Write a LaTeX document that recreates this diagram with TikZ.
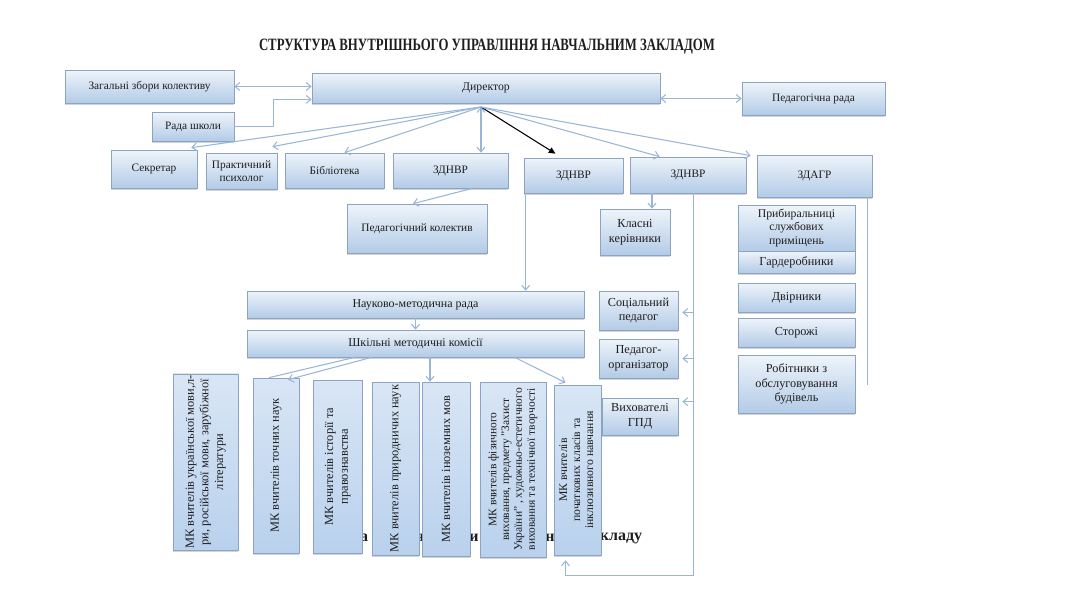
\documentclass[tikz,border=0pt]{standalone}
\usepackage{fontspec}
\setmainfont{Liberation Serif}
\usepackage{graphicx}
\usetikzlibrary{arrows.meta,calc,shadows}
\definecolor{boxtop}{HTML}{EEF4FA}
\definecolor{boxbot}{HTML}{B3CBE7}
\definecolor{boxline}{HTML}{8CA4C2}
\definecolor{conncol}{HTML}{9AB6D6}
\definecolor{mkfill}{HTML}{B9D1ED}
\definecolor{txt}{HTML}{1E1E1E}
\begin{document}
\begin{tikzpicture}[x=0.75pt,y=-0.75pt,
  box/.style={draw=boxline, line width=0.5pt, top color=boxtop, bottom color=boxbot,
    inner sep=1pt, align=center, text=txt, font=\fontsize{8.5}{10}\selectfont,
    drop shadow={shadow xshift=0.3pt, shadow yshift=-1.2pt, opacity=0.35}},
  rbox/.style={box, font=\fontsize{9.2}{11}\selectfont},
  mkbox/.style={box, top color=mkfill!55!white, bottom color=mkfill, font=\fontsize{9.3}{11}\selectfont},
  sz/.style 2 args={minimum width=#1*0.75pt, minimum height=#2*0.75pt},
  conn/.style={draw=conncol, line width=0.8pt},
  tip/.style={-{Straight Barb[length=3.5pt,width=6pt]}},
  tips/.style={{Straight Barb[length=3.5pt,width=6pt]}-{Straight Barb[length=3.5pt,width=6pt]}},
  frag/.style={font=\fontsize{12}{14}\selectfont\bfseries, text=txt, inner sep=0pt}
]
\useasboundingbox (0,0) rectangle (1067,600);

% title
\node[text=txt, inner sep=0pt] (title) at (487,47)
  {\resizebox{342pt}{8.6pt}{\bfseries СТРУКТУРА ВНУТРІШНЬОГО УПРАВЛІННЯ НАВЧАЛЬНИМ ЗАКЛАДОМ}};

% top row
\node[box, sz={169}{33}] (zag) at (149.5,86.5) {Загальні збори колективу};
\node[box, sz={348}{30}, font=\fontsize{8.8}{10}\selectfont] (dir) at (486,88) {Директор};
\node[box, sz={143}{33}] (ped) at (813.5,98.5) {Педагогічна рада};
\node[box, sz={82}{29}] (rada) at (193,126.5) {Рада школи};

% second row
\node[box, sz={86}{38}] (sekr) at (154,169) {Секретар};
\node[box, sz={71}{36}] (psy) at (241.5,171) {Практичний\\психолог};
\node[box, sz={99}{35}] (bib) at (334.5,170.5) {Бібліотека};
\node[box, sz={115}{35}] (zd1) at (450.5,170.5) {ЗДНВР};
\node[box, sz={99}{35}] (zd2) at (573.5,175.5) {ЗДНВР};
\node[box, sz={116}{36}] (zd3) at (688,175) {ЗДНВР};
\node[box, sz={115}{42}] (zdagr) at (814.5,176) {ЗДАГР};

% third level
\node[box, sz={140}{49}] (pedkol) at (417,228.5) {Педагогічний колектив};
\node[rbox, sz={70}{46}] (klasni) at (635,232) {Класні\\керівники};
\node[box, sz={337}{27}, font=\fontsize{9}{10}\selectfont] (nmr) at (415.5,304.5) {Науково-методична рада};
\node[box, sz={337}{27}, font=\fontsize{9}{10}\selectfont] (shmk) at (415.5,343.5) {Шкільні методичні комісії};
\node[rbox, sz={79}{39}] (socped) at (638.5,310.5) {Соціальний\\педагог};
\node[rbox, sz={79}{39}] (pedorg) at (638.5,358.5) {Педагог-\\організатор};
\node[rbox, sz={76}{37}] (vyh) at (640,416.5) {Вихователі\\ГПД};

% right column
\node[rbox, sz={117}{46}, font=\fontsize{8.8}{10}\selectfont] (prybyr) at (796.5,228) {Прибиральниці\\службових\\приміщень};
\node[rbox, sz={117}{22}] (garder) at (796.5,262) {Гардеробники};
\node[rbox, sz={117}{29}] (dvirn) at (796.5,297.5) {Двірники};
\node[rbox, sz={117}{29}] (storozh) at (796.5,332.5) {Сторожі};
\node[rbox, sz={117}{58}] (robit) at (796.5,384) {Робітники з\\обслуговування\\будівель};

% hidden bold text fragments behind the commissions
\node[frag] (fa) at (364,538) {а};
\node[frag] (fya) at (420,538) {я};
\node[frag] (fy) at (474,538) {и};
\node[frag] (fn) at (550,538) {н};
\node[frag] (fkl) at (621,538) {кладу};

% methodical commissions
\node[mkbox, sz={65}{172}] (mk1) at (205.5,462)
  {\rotatebox{90}{\begin{tabular}{@{}c@{}}МК вчителів української мови,л-\\ри, російської мови, зарубіжної\\літератури\end{tabular}}};
\node[mkbox, sz={46}{175}] (mk2) at (276,465.5)
  {\rotatebox{90}{МК вчителів точних наук}};
\node[mkbox, sz={49}{173}] (mk3) at (337.5,466.5)
  {\rotatebox{90}{\begin{tabular}{@{}c@{}}МК вчителів історії та\\правознавства\end{tabular}}};
\node[mkbox, sz={47}{173}] (mk4) at (395.5,468.5)
  {\rotatebox{90}{МК вчителів природничих наук}};
\node[mkbox, sz={48}{174}] (mk5) at (446,469)
  {\rotatebox{90}{МК вчителів іноземних мов}};
\node[mkbox, sz={66}{175}, font=\fontsize{8.6}{9.6}\selectfont] (mk6) at (513,469.5)
  {\rotatebox{90}{\begin{tabular}{@{}c@{}}МК вчителів фізичного\\виховання, предмету "Захист\\України" , художньо-естетичного\\виховання та технічної творчості\end{tabular}}};
\node[mkbox, sz={47}{170}, font=\fontsize{8.8}{9.8}\selectfont] (mk7) at (577.5,470)
  {\rotatebox{90}{\begin{tabular}{@{}c@{}}МК вчителів\\початкових класів та\\інклюзивного навчання\end{tabular}}};

% ---- connectors ----
\coordinate (hub) at (481,107);
\draw[conn,tips] (zag.east) -- (zag.east -| dir.west);
\coordinate (dirlow) at ($(dir.south west)+(0,-4)$);
\draw[conn,tip] (rada.east) -- ++(39,0) |- (dirlow);
\draw[conn,tips] (ped.west -| dir.east) -- (ped.west);

\draw[conn,tip] (hub) -- ($(sekr.north east)+(-6,-2)$);
\draw[conn,tip] (hub) -- ($(psy.north east)+(-5,-6)$);
\draw[conn,tip] (hub) -- ($(bib.north)+(10,0)$);
\draw[conn,tips] (hub) -- (hub |- zd1.north);
\draw[black, line width=0.8pt, -{Triangle[length=5pt,width=4.5pt]}] (hub) -- ($(zd2.north)+(-18,-4)$);
\draw[conn,tip] (hub) -- ($(zd3.north west)+(30,0)$);
\draw[conn,tip] (hub) -- ($(zdagr.north west)+(-6,1)$);

\draw[conn,tip] ($(zd1.south)+(22,0)$) -- ($(pedkol.north)+(-4,0)$);
\coordinate (k3) at ($(klasni.north)+(17,0)$);
\draw[conn,tip] (k3 |- zd3.south) -- (k3);
\coordinate (z2d) at ($(zd2.south west)+(2,0)$);
\draw[conn,tip] (z2d) -- (z2d |- nmr.north);
\draw[conn,tip] (nmr.south) -- (shmk.north);

\draw[conn] ($(shmk.south west)+(108,0)$) -- ($(mk2.north)+(-7,0)$);
\draw[conn,tip] ($(shmk.south west)+(125,0)$) -- ($(mk2.north)+(12,2)$);
\coordinate (m5t) at ($(mk5.north)+(-16,0)$);
\draw[conn,tip] (m5t |- shmk.south) -- (m5t);
\draw[conn,tip] ($(shmk.south west)+(268,0)$) -- ($(mk7.north)+(-12,-2)$);

\coordinate (z3d) at ($(zd3.south west)+(64,0)$);
\coordinate (mk7b) at ($(mk7.south)+(-12,5)$);
\draw[conn,tip] (z3d) -- ++(0,382) -| (mk7b);
\coordinate (sp) at ($(socped.east)+(4,2)$);
\draw[conn,tip] (z3d |- sp) -- (sp);
\coordinate (po) at ($(pedorg.east)+(4,0)$);
\draw[conn,tip] (z3d |- po) -- (po);
\coordinate (vh) at ($(vyh.north east)+(4,4)$);
\draw[conn,tip] (z3d |- vh) -- (vh);

\coordinate (zg) at ($(zdagr.south east)+(-5,0)$);
\draw[conn] (zg) -- ++(0,188);
\end{tikzpicture}
\end{document}
